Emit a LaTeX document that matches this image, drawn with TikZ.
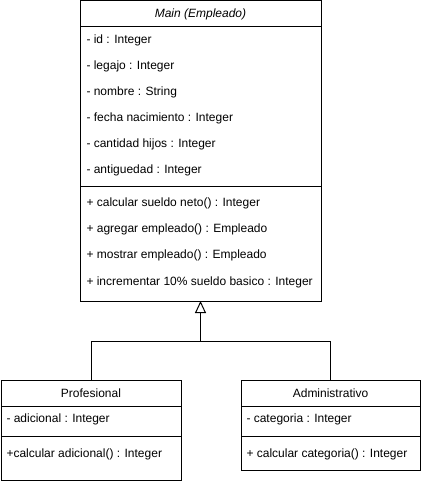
\documentclass[tikz,border=0pt]{standalone}
\usepackage{fontspec}
\setmainfont{Liberation Sans}
\usetikzlibrary{arrows.meta}

\begin{document}
\begin{tikzpicture}[x=1pt,y=-1pt,line width=1pt,
    font=\fontsize{12}{14}\selectfont,
    box/.style={draw,anchor=north west,inner sep=0,outer sep=0},
    attr/.style={anchor=west,inner sep=0}]
      \useasboundingbox (0,0) rectangle (421,481);
      % main class
      \node[box,minimum width=241,minimum height=300] (main) at (80,1) {};
      \draw (80,27)--(321,27);
      \draw (80,186)--(321,186);
      \node (mainT) at (200.5,14) {\itshape Main (Empleado)};
      \node[attr] (a1) at (86,40) {- id : Integer};
      \node[attr] (a2) at (86,66) {- legajo : Integer};
      \node[attr] (a3) at (86,92) {- nombre : String};
      \node[attr] (a4) at (86,118) {- fecha nacimiento : Integer};
      \node[attr] (a5) at (86,144) {- cantidad hijos : Integer};
      \node[attr] (a6) at (86,170) {- antiguedad : Integer};
      \node[attr] (m1) at (86,203) {+ calcular sueldo neto() : Integer};
      \node[attr] (m2) at (86,229) {+ agregar empleado() : Empleado};
      \node[attr] (m3) at (86,255) {+ mostrar empleado() : Empleado};
      \node[attr] (m4) at (86,282) {+ incrementar 10\% sueldo basico : Integer};
      % subclasses
      \node[box,minimum width=180,minimum height=100] (prof) at (1,380) {};
      \draw (1,406)--(181,406);
      \draw (1,436)--(181,436);
      \node (profT) at (91,393) {Profesional};
      \node[attr] (p1) at (6,419) {- adicional : Integer};
      \node[attr] (p2) at (6,454) {+calcular adicional() : Integer};
      \node[box,minimum width=179,minimum height=90] (admin) at (241,380) {};
      \draw (241,406)--(420,406);
      \draw (241,436)--(420,436);
      \node (adminT) at (330.5,393) {Administrativo};
      \node[attr] (d1) at (246,419) {- categoria : Integer};
      \node[attr] (d2) at (246,454) {+ calcular categoria() : Integer};
      % generalization
      \coordinate (split) at (200.5,341);
      \draw (prof.north)--(prof.north |- split)--(admin.north |- split)--(admin.north);
      \draw[-{Triangle[open,length=12,width=11]}] (split)--(main.south);
    \end{tikzpicture}
\end{document}
